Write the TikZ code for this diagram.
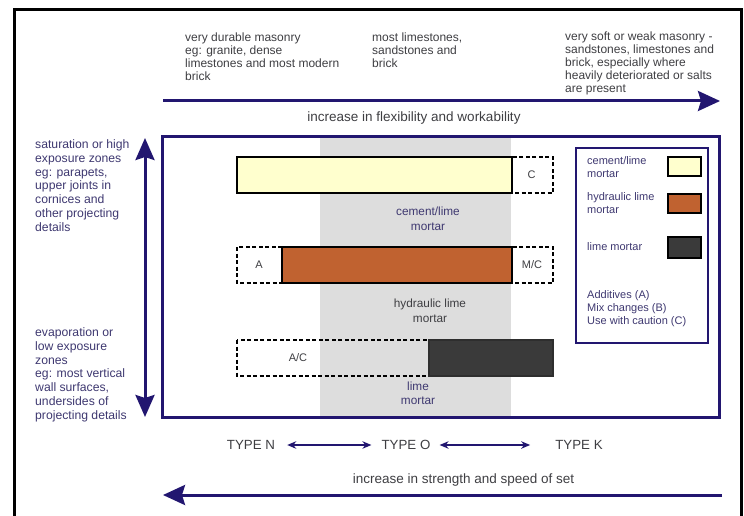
\documentclass[tikz,border=0pt]{standalone}
\usepackage{fontspec}
\setmainfont{Liberation Sans}
\usetikzlibrary{arrows.meta}
\definecolor{navy}{RGB}{34,22,112}
\definecolor{txt}{RGB}{62,62,66}
\definecolor{txtb}{RGB}{62,56,112}
\definecolor{cyel}{RGB}{255,255,206}
\definecolor{corg}{RGB}{192,98,48}
\definecolor{cdark}{RGB}{58,58,58}
\definecolor{band}{RGB}{221,221,221}
\begin{document}
\begin{tikzpicture}[x=1pt,y=-1pt,
  lbl/.style={font=\fontsize{12}{13}\selectfont, text=txt, inner sep=0pt, align=left, anchor=north west},
  side/.style={font=\fontsize{12.2}{13.8}\selectfont, text=txtb, inner sep=0pt, align=left, anchor=north west},
  mid/.style={font=\fontsize{11.8}{15}\selectfont, inner sep=0pt, align=center, anchor=north},
  leg/.style={font=\fontsize{11}{13}\selectfont, text=txtb, inner sep=0pt, align=left, anchor=north west},
  small/.style={font=\fontsize{11}{12}\selectfont, text=txt, inner sep=0pt},
  typ/.style={font=\fontsize{13.3}{15}\selectfont, text=txt, inner sep=0pt},
  captxt/.style={font=\fontsize{13.5}{15}\selectfont, text=txt, inner sep=0pt},
  bigarrow/.style={draw=navy, line width=3pt, -{Stealth[length=22pt,width=20pt,inset=3pt]}},
  dblarrow/.style={draw=navy, line width=3pt, {Stealth[length=22pt,width=19pt,inset=3pt]}-{Stealth[length=22pt,width=19pt,inset=3pt]}},
  typarrow/.style={draw=navy, line width=1.5pt, {Stealth[length=9pt,width=7.5pt]}-{Stealth[length=9pt,width=7.5pt]}},
  solidbar/.style={draw=black, line width=1.4pt},
  dashbar/.style={draw=black, line width=1.2pt, dash pattern=on 4pt off 2.5pt},
  swatch/.style={draw=black, line width=1.2pt}
]
\useasboundingbox (0,0) rectangle (744,516);
% outer frame
\draw[black, line width=3pt] (14.5,516) -- (14.5,9.5) -- (741.5,9.5) -- (741.5,516);

% top texts
\node[lbl] (t1) at (185,32.5) {very durable masonry\\eg: granite, dense\\limestones and most modern\\brick};
\node[lbl] (t2) at (372,32.5) {most limestones,\\sandstones and\\brick};
\node[lbl] (t3) at (565,31.5) {very soft or weak masonry -\\sandstones, limestones and\\brick, especially where\\heavily deteriorated or salts\\are present};

% top arrow
\coordinate (fa) at (163,101);
\coordinate (fb) at (720,101);
\draw[bigarrow] (fa) -- (fb);
\node[captxt] (flex) at (414,118) {increase in flexibility and workability};

% gray band
\fill[band] (320,137) rectangle (511,417);

% bar 1
\draw[solidbar, fill=cyel] (237,157) rectangle (512,193);
\draw[dashbar] (512,157) rectangle (553,193);
\node[small] (c1) at (531.5,175) {C};
% bar 2
\draw[dashbar] (237,247) rectangle (282,283);
\draw[solidbar, fill=corg] (282,247) rectangle (512,283);
\draw[dashbar] (512,247) rectangle (553,283);
\node[small] (a2) at (259,265) {A};
\node[small] (mc2) at (532,265) {M/C};
% bar 3
\draw[dashbar] (237,340) rectangle (429,376);
\draw[solidbar, draw=cdark!80!black, fill=cdark] (429,340) rectangle (553,376);
\node[small] (ac3) at (298,358) {A/C};

% band labels
\node[mid, text=txtb] (m1) at (428,206.5) {cement/lime\\mortar};
\node[mid, text=txt] (m2) at (430,298.5) {hydraulic lime\\mortar};
\node[mid, text=txtb, font=\fontsize{11.8}{14}\selectfont] (m3) at (418,381.5) {lime\\mortar};

% main box
\draw[navy, line width=3pt] (162,137) rectangle (719,417);

% legend
\draw[navy, line width=1.6pt] (576,148) rectangle (708,343);
\node[leg] (l1) at (587,156.5) {cement/lime\\mortar};
\draw[swatch, fill=cyel] (668,157) rectangle (701,176);
\node[leg] (l2) at (587,192.5) {hydraulic lime\\mortar};
\draw[swatch, fill=corg] (668,194) rectangle (701,213);
\node[leg, anchor=west] (l3) at (587,247) {lime mortar};
\draw[swatch, fill=cdark] (668,237) rectangle (701,258);
\node[leg] (l4) at (587,290.5) {Additives (A)\\Mix changes (B)\\Use with caution (C)};

% vertical arrow
\coordinate (va) at (145,138);
\coordinate (vb) at (145,417);
\draw[dblarrow] (va) -- (vb);
\node[side] (s1) at (35,139.5) {saturation or high\\exposure zones\\eg: parapets,\\upper joints in\\cornices and\\other projecting\\details};
\node[side] (s2) at (35,327.5) {evaporation or\\low exposure\\zones\\eg: most vertical\\wall surfaces,\\undersides of\\projecting details};

% types
\node[typ] (tn) at (251,445) {TYPE N};
\node[typ] (to) at (406,445) {TYPE O};
\node[typ] (tk) at (579,445) {TYPE K};
\draw[typarrow] ([xshift=12pt]tn.east) -- ([xshift=-10pt]to.west);
\draw[typarrow] ([xshift=9pt]to.east) -- ([xshift=-25pt]tk.west);

% bottom arrow
\node[captxt] (str) at (463.5,480) {increase in strength and speed of set};
\coordinate (sa) at (722,495);
\coordinate (sb) at (163,495);
\draw[bigarrow] (sa) -- (sb);
\end{tikzpicture}
\end{document}
